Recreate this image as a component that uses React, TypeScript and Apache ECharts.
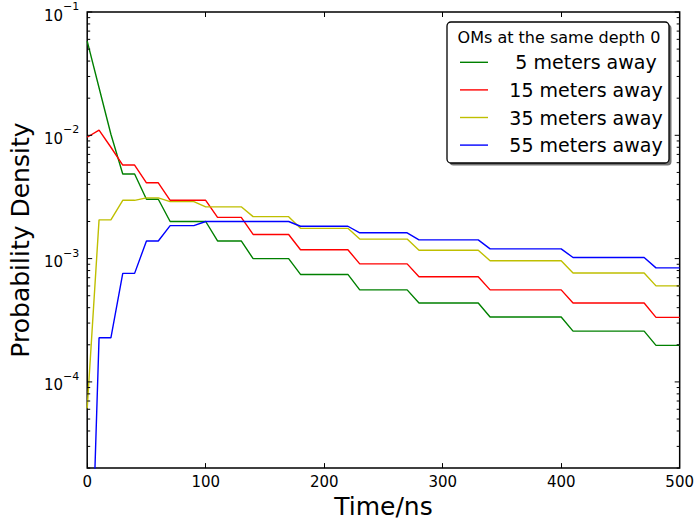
import React, { useEffect, useRef } from "react";
import * as echarts from "echarts";

const times = [
  0, 10, 20, 30, 40, 50, 60, 70, 80, 90, 100, 110, 120, 130, 140, 150, 160, 170, 180, 190, 200,
  210, 220, 230, 240, 250, 260, 270, 280, 290, 300, 310, 320, 330, 340, 350, 360, 370, 380, 390,
  400, 410, 420, 430, 440, 450, 460, 470, 480, 490, 500,
];

const away5 = [
  0.058, 0.0243, 0.0102, 0.00486, 0.00486, 0.00303, 0.00303, 0.002, 0.002, 0.002, 0.002,
  0.00139, 0.00139, 0.00139, 0.001, 0.001, 0.001, 0.001,
  0.000744, 0.000744, 0.000744, 0.000744, 0.000744,
  0.000558, 0.000558, 0.000558, 0.000558, 0.000558,
  0.000436, 0.000436, 0.000436, 0.000436, 0.000436, 0.000436,
  0.000336, 0.000336, 0.000336, 0.000336, 0.000336, 0.000336, 0.000336,
  0.000258, 0.000258, 0.000258, 0.000258, 0.000258, 0.000258, 0.000258,
  0.000198, 0.000198, 0.000198,
];

const away15 = [
  0.00964, 0.011, 0.008, 0.00574, 0.00574, 0.00412, 0.00412, 0.00297, 0.00297, 0.00297, 0.00297,
  0.00216, 0.00216, 0.00216, 0.00157, 0.00157, 0.00157, 0.00157,
  0.00118, 0.00118, 0.00118, 0.00118, 0.00118,
  0.000906, 0.000906, 0.000906, 0.000906, 0.000906,
  0.000713, 0.000713, 0.000713, 0.000713, 0.000713, 0.000713,
  0.000558, 0.000558, 0.000558, 0.000558, 0.000558, 0.000558, 0.000558,
  0.000436, 0.000436, 0.000436, 0.000436, 0.000436, 0.000436, 0.000436,
  0.000334, 0.000334, 0.000334,
];

const away35 = [
  0.000061, 0.00206, 0.00206, 0.00297, 0.00297, 0.00311, 0.00311, 0.0029, 0.0029, 0.0029,
  0.00263, 0.00263, 0.00263, 0.00263, 0.00219, 0.00219, 0.00219, 0.00219,
  0.00176, 0.00176, 0.00176, 0.00176, 0.00176,
  0.00144, 0.00144, 0.00144, 0.00144, 0.00144,
  0.00117, 0.00117, 0.00117, 0.00117, 0.00117, 0.00117,
  0.00096, 0.00096, 0.00096, 0.00096, 0.00096, 0.00096, 0.00096,
  0.000764, 0.000764, 0.000764, 0.000764, 0.000764, 0.000764, 0.000764,
  0.000601, 0.000601, 0.000601,
];

const away55 = [
  0.0000002, 0.000228, 0.000228, 0.000759, 0.000759, 0.00139, 0.00139, 0.00185, 0.00185, 0.00185,
  0.002, 0.002, 0.002, 0.002, 0.002, 0.002, 0.002, 0.002,
  0.00183, 0.00183, 0.00183, 0.00183, 0.00183,
  0.00162, 0.00162, 0.00162, 0.00162, 0.00162,
  0.00142, 0.00142, 0.00142, 0.00142, 0.00142, 0.00142,
  0.0012, 0.0012, 0.0012, 0.0012, 0.0012, 0.0012, 0.0012,
  0.00102, 0.00102, 0.00102, 0.00102, 0.00102, 0.00102, 0.00102,
  0.000841, 0.000841, 0.000841,
];

const seriesNames = ["5 meters away", "15 meters away", "35 meters away", "55 meters away"];
const seriesColors = ["#008000", "#ff0000", "#bfbf00", "#0000ff"];
const legendTitle = "OMs at the same depth 0";

const majorTicks = [0.0001, 0.001, 0.01, 0.1];
const minorTicks = [
  0.00002, 0.00003, 0.00004, 0.00005, 0.00006, 0.00007, 0.00008, 0.00009,
  0.0002, 0.0003, 0.0004, 0.0005, 0.0006, 0.0007, 0.0008, 0.0009,
  0.002, 0.003, 0.004, 0.005, 0.006, 0.007, 0.008, 0.009,
  0.02, 0.03, 0.04, 0.05, 0.06, 0.07, 0.08, 0.09,
];

const FONT = "DejaVu Sans";

export default function App() {
  const ref = useRef<HTMLDivElement>(null);
  useEffect(() => {
    document.body.style.margin = "0";
    if (!ref.current) return;
    const chart = echarts.init(ref.current, undefined, { renderer: "svg" });
    const allSeries = [away5, away15, away35, away55];

    const legendX = 447;
    const legendY = 22;
    const legendW = 222;
    const legendH = 141;
    const rowYs = [62.3, 89.9, 117.5, 145.1];

    const legendChildren: any[] = [
      {
        type: "rect",
        shape: { x: legendX + 2.5, y: legendY + 2.5, width: legendW, height: legendH, r: 4 },
        style: { fill: "rgba(0,0,0,0.55)" },
      },
      {
        type: "rect",
        shape: { x: legendX, y: legendY, width: legendW, height: legendH, r: 4 },
        style: { fill: "#ffffff", stroke: "#000000", lineWidth: 1.3 },
      },
      {
        type: "text",
        x: legendX + legendW / 2 + 1,
        y: 37,
        style: {
          text: legendTitle,
          font: `16px "${FONT}"`,
          fill: "#000",
          align: "center",
          verticalAlign: "middle",
        },
      },
    ];
    seriesNames.forEach((name, i) => {
      legendChildren.push({
        type: "line",
        shape: { x1: 460, y1: rowYs[i], x2: 488, y2: rowYs[i] },
        style: { stroke: seriesColors[i], lineWidth: 1.4 },
      });
      legendChildren.push({
        type: "text",
        x: 586,
        y: rowYs[i],
        style: {
          text: name,
          font: `19px "${FONT}"`,
          fill: "#000",
          align: "center",
          verticalAlign: "middle",
        },
      });
    });

    const tickData = [
      ...majorTicks.map((v) => [0, v, 1]),
      ...minorTicks.map((v) => [0, v, 0]),
    ];

    chart.setOption({
      animation: false,
      backgroundColor: "#ffffff",
      grid: {
        left: 85,
        right: 17,
        top: 12,
        bottom: 51,
        show: true,
        borderColor: "#000",
        borderWidth: 1.5,
        backgroundColor: "transparent",
      },
      xAxis: [
        {
          type: "value",
          min: 0,
          max: 500,
          interval: 100,
          name: "Time/ns",
          nameLocation: "middle",
          nameGap: 22,
          nameTextStyle: { fontFamily: FONT, fontSize: 25, color: "#000" },
          axisLine: { show: false },
          splitLine: { show: false },
          axisTick: { show: true, inside: true, length: 5, lineStyle: { color: "#000", width: 1 } },
          axisLabel: { fontFamily: FONT, fontSize: 15, color: "#000", margin: 6 },
        },
        {
          type: "value",
          position: "top",
          min: 0,
          max: 500,
          interval: 100,
          axisLine: { show: false },
          splitLine: { show: false },
          axisTick: { show: true, inside: true, length: 5, lineStyle: { color: "#000", width: 1 } },
          axisLabel: { show: false },
        },
      ],
      yAxis: {
        type: "log",
        logBase: 10,
        min: 0.00002,
        max: 0.1,
        name: "Probability Density",
        nameLocation: "middle",
        nameGap: 46,
        nameTextStyle: { fontFamily: FONT, fontSize: 25, color: "#000" },
        axisLine: { show: false },
        splitLine: { show: false },
        axisTick: { show: false },
        axisLabel: {
          margin: 8,
          formatter: (v: number) => {
            const e = Math.log10(v);
            if (Math.abs(e - Math.round(e)) > 1e-6) return "";
            return `{b|10}{s|\u2212${Math.abs(Math.round(e))}}`;
          },
          rich: {
            b: { fontFamily: FONT, fontSize: 15, color: "#000", verticalAlign: "bottom", lineHeight: 22 },
            s: { fontFamily: FONT, fontSize: 11, color: "#000", verticalAlign: "top", lineHeight: 22 },
          },
        },
      },
      series: [
        ...allSeries.map((vals, i) => ({
          name: seriesNames[i],
          type: "line",
          xAxisIndex: 0,
          showSymbol: false,
          symbol: "none",
          clip: true,
          lineStyle: { color: seriesColors[i], width: 1.4 },
          itemStyle: { color: seriesColors[i] },
          data: times.map((t, j) => [t, vals[j]]),
          z: 3,
        })),
        {
          type: "custom",
          xAxisIndex: 0,
          silent: true,
          clip: false,
          z: 5,
          data: tickData,
          renderItem: (params: any, api: any) => {
            const v = api.value(1);
            const len = api.value(2) === 1 ? 5 : 3;
            const l = api.coord([0, v]);
            const r = api.coord([500, v]);
            return {
              type: "group",
              children: [
                {
                  type: "line",
                  shape: { x1: l[0], y1: l[1], x2: l[0] + len, y2: l[1] },
                  style: { stroke: "#000", lineWidth: 1 },
                },
                {
                  type: "line",
                  shape: { x1: r[0], y1: r[1], x2: r[0] - len, y2: r[1] },
                  style: { stroke: "#000", lineWidth: 1 },
                },
              ],
            };
          },
        },
      ],
      graphic: [{ type: "group", z: 100, children: legendChildren }],
    });
    return () => chart.dispose();
  }, []);
  return <div ref={ref} style={{ width: 697, height: 524 }} />;
}
